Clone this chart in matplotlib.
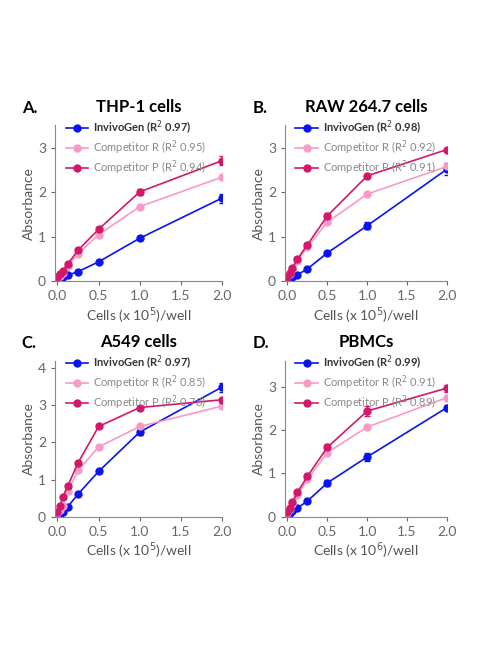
import matplotlib.pyplot as plt

plt.rcParams["font.family"] = ["Lato", "DejaVu Sans"]

X = [0.0, 0.03125, 0.0625, 0.125, 0.25, 0.5, 1.0, 2.0]

TITLES = ["THP-1 cells", "RAW 264.7 cells", "A549 cells", "PBMCs"]
LETTERS = ["A.", "B.", "C.", "D."]
XLABELS = ["Cells (x 10$^5$)/well", "Cells (x 10$^5$)/well",
           "Cells (x 10$^5$)/well", "Cells (x 10$^6$)/well"]
R2 = [(0.97, 0.95, 0.94), (0.98, 0.92, 0.91), (0.97, 0.85, 0.78), (0.99, 0.91, 0.89)]
YMAX = [3.5, 3.5, 4.2, 3.6]
YTICKS = [[0, 1, 2, 3], [0, 1, 2, 3], [0, 1, 2, 3, 4], [0, 1, 2, 3]]

INVIVO = [
    [0.05, 0.08, 0.11, 0.14, 0.22, 0.44, 0.97, 1.87],
    [0.04, 0.07, 0.10, 0.15, 0.28, 0.64, 1.25, 2.52],
    [0.04, 0.08, 0.13, 0.27, 0.61, 1.22, 2.28, 3.49],
    [0.05, 0.09, 0.13, 0.20, 0.36, 0.78, 1.38, 2.52],
]
INVIVO_ERR = [
    [0.01, 0.01, 0.01, 0.02, 0.03, 0.03, 0.05, 0.10],
    [0.01, 0.01, 0.01, 0.02, 0.03, 0.04, 0.08, 0.14],
    [0.01, 0.01, 0.01, 0.02, 0.03, 0.04, 0.09, 0.12],
    [0.01, 0.01, 0.01, 0.02, 0.03, 0.07, 0.10, 0.06],
]
COMP_R = [
    [0.08, 0.13, 0.20, 0.35, 0.62, 1.05, 1.68, 2.34],
    [0.09, 0.17, 0.28, 0.47, 0.77, 1.33, 1.96, 2.58],
    [0.10, 0.18, 0.30, 0.70, 1.25, 1.88, 2.43, 2.98],
    [0.09, 0.17, 0.30, 0.50, 0.86, 1.48, 2.07, 2.75],
]
COMP_R_ERR = [
    [0.01, 0.01, 0.02, 0.02, 0.03, 0.03, 0.04, 0.04],
    [0.01, 0.01, 0.02, 0.02, 0.03, 0.04, 0.04, 0.05],
    [0.01, 0.01, 0.02, 0.03, 0.04, 0.04, 0.05, 0.08],
    [0.01, 0.01, 0.02, 0.02, 0.03, 0.05, 0.05, 0.05],
]
COMP_P = [
    [0.10, 0.17, 0.24, 0.39, 0.70, 1.17, 2.01, 2.71],
    [0.10, 0.20, 0.30, 0.50, 0.82, 1.47, 2.37, 2.96],
    [0.12, 0.30, 0.52, 0.83, 1.45, 2.43, 2.94, 3.15],
    [0.10, 0.20, 0.33, 0.56, 0.93, 1.60, 2.44, 2.97],
]
COMP_P_ERR = [
    [0.01, 0.01, 0.02, 0.03, 0.03, 0.05, 0.06, 0.10],
    [0.01, 0.01, 0.02, 0.03, 0.03, 0.06, 0.05, 0.04],
    [0.01, 0.02, 0.03, 0.04, 0.04, 0.04, 0.04, 0.05],
    [0.01, 0.01, 0.02, 0.03, 0.04, 0.07, 0.12, 0.08],
]

SERIES = [
    (INVIVO, INVIVO_ERR, "InvivoGen", "#0A14F0"),
    (COMP_R, COMP_R_ERR, "Competitor R", "#F79AC8"),
    (COMP_P, COMP_P_ERR, "Competitor P", "#D3176B"),
]

fig = plt.figure(figsize=(5, 6.5), dpi=100)
POS = [(0.11, 0.567, 0.334, 0.24), (0.57, 0.567, 0.324, 0.24),
       (0.11, 0.205, 0.334, 0.24), (0.57, 0.205, 0.324, 0.24)]

for i in range(4):
    ax = fig.add_axes(POS[i])
    for k, (data, err, name, color) in enumerate(SERIES):
        ax.errorbar(X, data[i], yerr=err[i], color=color, marker="o",
                    markersize=5, linewidth=1.2, elinewidth=1, capsize=2)
        ax.plot([], [], color=color, marker="o", markersize=5, linewidth=1.2,
                label=f"{name} (R$^2$ {R2[i][k]:.2f})")
    ax.set_xlim(-0.03, 2.0)
    ax.set_ylim(0, YMAX[i])
    ax.set_xticks([0.0, 0.5, 1.0, 1.5, 2.0])
    ax.set_xticklabels(["0.0", "0.5", "1.0", "1.5", "2.0"])
    ax.set_yticks(YTICKS[i])
    ax.tick_params(colors="#666666", labelsize=10, length=3)
    for s in ["top", "right"]:
        ax.spines[s].set_visible(False)
    for s in ["left", "bottom"]:
        ax.spines[s].set_color("#888888")
    ax.set_xlabel(XLABELS[i], fontsize=10, color="#555555", labelpad=2)
    ax.set_ylabel("Absorbance", fontsize=10, color="#555555", labelpad=2)
    ax.set_title(TITLES[i], fontsize=12, fontweight="bold", pad=10)
    ax.text(-0.2, 1.06, LETTERS[i], transform=ax.transAxes, fontsize=12,
            fontweight="bold", va="bottom")
    leg = ax.legend(loc="upper left", bbox_to_anchor=(0.03, 1.08), frameon=False,
                    fontsize=8, handlelength=2, handletextpad=0.5,
                    labelspacing=0.15, borderaxespad=0.1)
    for j, t in enumerate(leg.get_texts()):
        if j == 0:
            t.set_fontweight("bold")
            t.set_color("#333333")
        else:
            t.set_color("#888888")

fig.savefig("out.png", dpi=100)
